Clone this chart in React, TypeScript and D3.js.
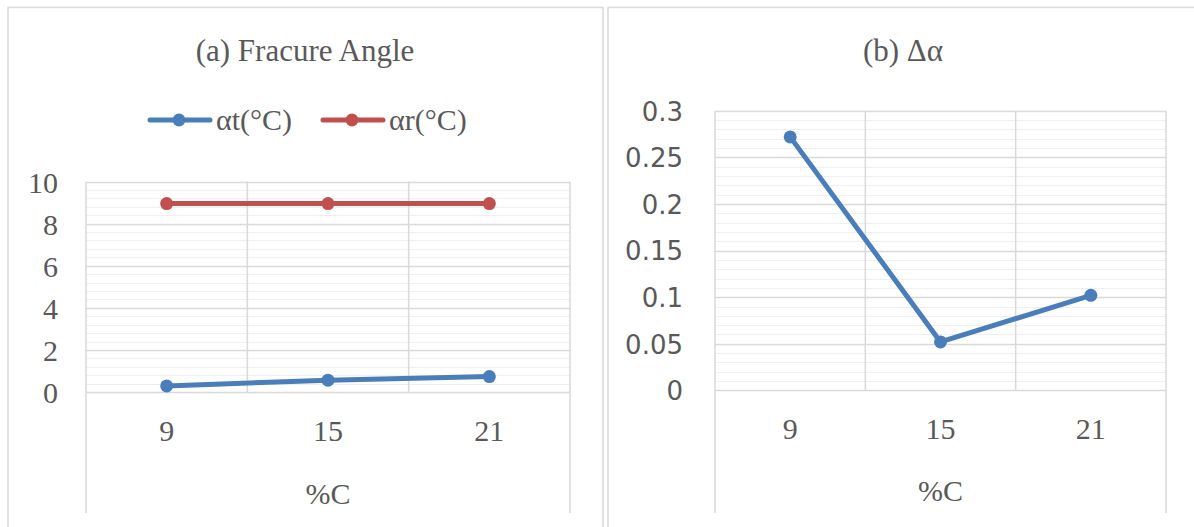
import React, { useRef, useEffect } from "react";
import * as d3 from "d3";

const categories = ["9", "15", "21"];
const alphaT = [0.3, 0.57, 0.74];
const alphaR = [8.95, 8.95, 8.95];
const deltaAlpha = [0.272, 0.052, 0.102];

const leftTicks = [0, 2, 4, 6, 8, 10];
const rightTicks = [0, 0.05, 0.1, 0.15, 0.2, 0.25, 0.3];

const legendNames = ["αt(°C)", "αr(°C)"];

const BLUE = "#4a7ebb";
const RED = "#c0504d";
const TEXT = "#595959";
const SERIF = '"Liberation Serif", "Times New Roman", serif';
const SANS = '"DejaVu Sans", sans-serif';

const drawPanel = (svg, opts) => {
  const g = svg.append("g");
  const x = d3.scaleBand().domain(categories).range([opts.left, opts.right]);
  const y = d3
    .scaleLinear()
    .domain([opts.ticks[0], opts.ticks[opts.ticks.length - 1]])
    .range([opts.bottom, opts.top]);

  // minor gridlines (5 per major step)
  const minorStep = (opts.ticks[1] - opts.ticks[0]) / 5;
  const nMinor = Math.round((y.domain()[1] - y.domain()[0]) / minorStep);
  const minor = d3.range(nMinor + 1).map((i) => y.domain()[0] + i * minorStep);
  g.append("g")
    .selectAll("line")
    .data(minor)
    .join("line")
    .attr("x1", opts.left)
    .attr("x2", opts.right)
    .attr("y1", (d) => Math.round(y(d)) + 0.5)
    .attr("y2", (d) => Math.round(y(d)) + 0.5)
    .attr("stroke", "#efefef")
    .attr("stroke-width", 1);

  // major gridlines
  g.append("g")
    .selectAll("line")
    .data(opts.ticks)
    .join("line")
    .attr("x1", opts.left)
    .attr("x2", opts.right)
    .attr("y1", (d) => Math.round(y(d)) + 0.5)
    .attr("y2", (d) => Math.round(y(d)) + 0.5)
    .attr("stroke", "#d9d9d9")
    .attr("stroke-width", 1.5);

  // vertical gridlines at category boundaries
  g.append("g")
    .selectAll("line")
    .data(categories.slice(1))
    .join("line")
    .attr("x1", (c) => x(c))
    .attr("x2", (c) => x(c))
    .attr("y1", opts.top)
    .attr("y2", opts.bottom)
    .attr("stroke", "#d9d9d9")
    .attr("stroke-width", 1.5);

  // plot area side edges run down past the axis labels
  g.append("g")
    .selectAll("line")
    .data([opts.left, opts.right])
    .join("line")
    .attr("x1", (d) => d)
    .attr("x2", (d) => d)
    .attr("y1", opts.top)
    .attr("y2", 513)
    .attr("stroke", "#d9d9d9")
    .attr("stroke-width", 1.5);

  // y axis labels
  const yAxis = d3
    .axisLeft(y)
    .tickValues(opts.ticks)
    .tickSize(0)
    .tickPadding(opts.yPad)
    .tickFormat(d3.format("~g"));
  const ya = g.append("g").attr("transform", `translate(${opts.left},0)`).call(yAxis);
  ya.select(".domain").remove();
  ya.selectAll("text")
    .attr("fill", TEXT)
    .attr("dy", opts.yDy)
    .style("font-family", opts.yFont)
    .style("font-size", opts.yFontSize + "px");

  // x axis labels
  const xAxis = d3.axisBottom(x).tickSize(0).tickPadding(opts.xPad);
  const xa = g.append("g").attr("transform", `translate(0,${opts.bottom})`).call(xAxis);
  xa.select(".domain").remove();
  xa.selectAll("text")
    .attr("fill", TEXT)
    .style("font-family", SERIF)
    .style("font-size", "30px");

  // axis title
  g.append("text")
    .attr("x", (opts.left + opts.right) / 2)
    .attr("y", opts.xTitleY)
    .attr("text-anchor", "middle")
    .attr("fill", TEXT)
    .style("font-family", SERIF)
    .style("font-size", "30px")
    .text("%C");

  // chart title
  g.append("text")
    .attr("x", opts.titleX)
    .attr("y", 61)
    .attr("text-anchor", "middle")
    .attr("fill", TEXT)
    .style("font-family", SERIF)
    .style("font-size", "31px")
    .text(opts.title);

  // series
  const line = d3
    .line()
    .x((d, i) => x(categories[i]) + x.bandwidth() / 2)
    .y((d) => y(d));
  opts.series.forEach((s) => {
    g.append("path")
      .datum(s.values)
      .attr("d", line)
      .attr("fill", "none")
      .attr("stroke", s.color)
      .attr("stroke-width", 5)
      .attr("stroke-linejoin", "round");
    g.append("g")
      .selectAll("circle")
      .data(s.values)
      .join("circle")
      .attr("cx", (d, i) => x(categories[i]) + x.bandwidth() / 2)
      .attr("cy", (d) => y(d))
      .attr("r", 6.5)
      .attr("fill", s.color);
  });
};

const App = () => {
  const svgRef = useRef();

  useEffect(() => {
    const svg = d3.select(svgRef.current);
    svg.selectAll("*").remove();

    // panel frames
    svg
      .selectAll(".frame")
      .data([
        [8, 595],
        [608, 600],
      ])
      .join("rect")
      .attr("class", "frame")
      .attr("x", (d) => d[0])
      .attr("y", 7.5)
      .attr("width", (d) => d[1])
      .attr("height", 540)
      .attr("fill", "white")
      .attr("stroke", "#d9d9d9")
      .attr("stroke-width", 1.5);

    drawPanel(svg, {
      left: 86,
      right: 570,
      top: 181.5,
      bottom: 392.2,
      ticks: leftTicks,
      yPad: 28,
      yDy: "0.35em",
      yFont: SERIF,
      yFontSize: 30,
      xPad: 28,
      xTitleY: 504,
      titleX: 305,
      title: "(a) Fracure Angle",
      series: [
        { values: alphaT, color: BLUE },
        { values: alphaR, color: RED },
      ],
    });

    drawPanel(svg, {
      left: 715,
      right: 1166,
      top: 110.8,
      bottom: 390.4,
      ticks: rightTicks,
      yPad: 32,
      yDy: "0.36em",
      yFont: SANS,
      yFontSize: 26,
      xPad: 27,
      xTitleY: 501,
      titleX: 903,
      title: "(b) Δα",
      series: [{ values: deltaAlpha, color: BLUE }],
    });

    // legend for panel (a)
    const legendX = [150, 323];
    const lg = svg
      .append("g")
      .selectAll("g")
      .data(legendNames)
      .join("g")
      .attr("transform", (d, i) => `translate(${legendX[i]},120)`);
    lg.append("line")
      .attr("x1", 0)
      .attr("x2", 60)
      .attr("stroke", (d, i) => (i === 0 ? BLUE : RED))
      .attr("stroke-width", 5)
      .attr("stroke-linecap", "round");
    lg.append("circle")
      .attr("cx", 29)
      .attr("r", 6.5)
      .attr("fill", (d, i) => (i === 0 ? BLUE : RED));
    lg.append("text")
      .attr("x", 66)
      .attr("y", 10)
      .attr("fill", TEXT)
      .style("font-family", SERIF)
      .style("font-size", "30px")
      .text((d) => d);
  }, []);

  return (
    <svg
      ref={svgRef}
      width={1194}
      height={527}
      style={{ position: "absolute", left: 0, top: 0, background: "white" }}
    />
  );
};

export default App;
